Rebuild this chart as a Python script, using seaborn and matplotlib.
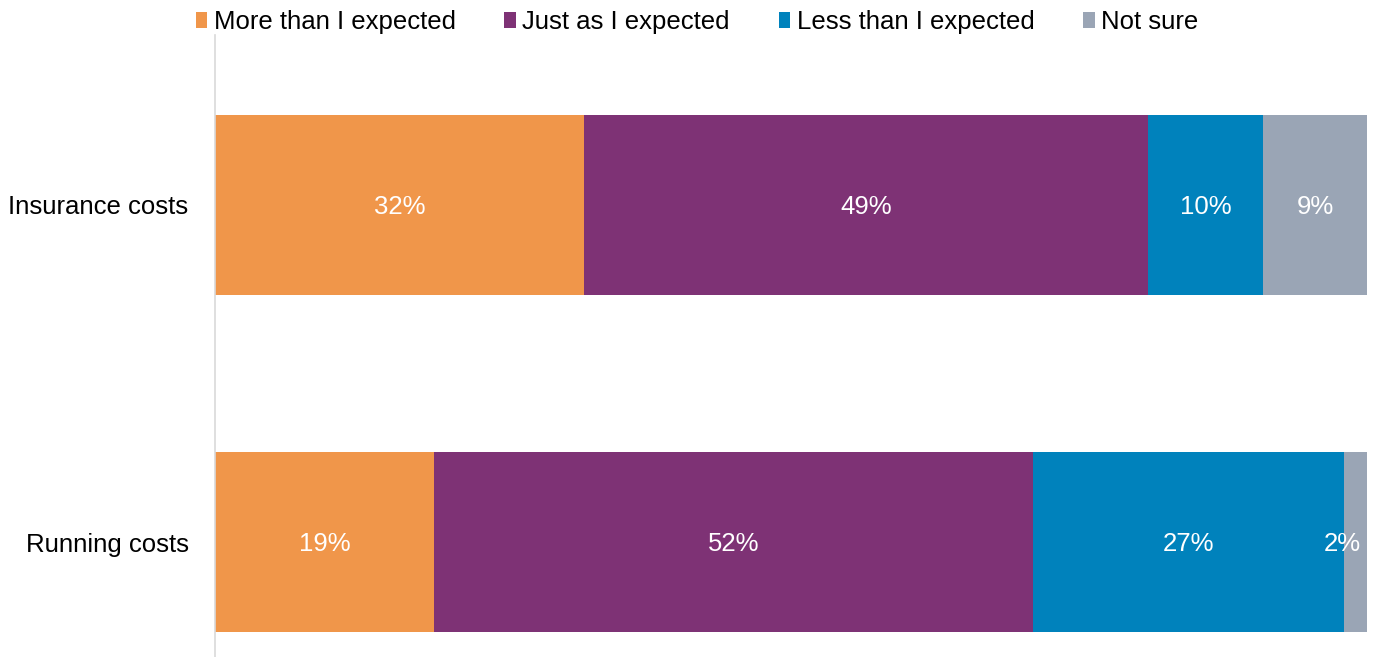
import matplotlib
matplotlib.use("Agg")
import matplotlib.pyplot as plt
import seaborn as sns
import numpy as np
import pandas as pd
from matplotlib.patches import Patch

categories = ["Insurance costs", "Running costs"]
series_names = ["More than I expected", "Just as I expected", "Less than I expected", "Not sure"]
more_than = [32, 19]
just_as = [49, 52]
less_than = [10, 27]
not_sure = [9, 2]
colors = ["#F0964A", "#7E3275", "#0082BC", "#9AA5B5"]

sns.set_theme(style="white")
plt.rcParams["font.family"] = ["Liberation Sans", "DejaVu Sans"]
plt.rcParams["text.color"] = "black"

values = np.array([more_than, just_as, less_than, not_sure], dtype=float)
cum = np.cumsum(values, axis=0)

fig = plt.figure(figsize=(13.75, 6.57), dpi=100)
ax = fig.add_axes([215 / 1375, 0.0, (1367 - 215) / 1375, (657 - 35) / 657])

# Stack by drawing cumulative totals from the largest down
for i in range(len(series_names) - 1, -1, -1):
    df = pd.DataFrame({"cat": categories, "val": cum[i]})
    sns.barplot(data=df, x="val", y="cat", orient="h", color=colors[i],
                width=0.534, saturation=1, ax=ax, linewidth=0)

# Value labels centred in each segment, kept inside the plot area
fs = 18.5
for i in range(len(series_names)):
    for j in range(len(categories)):
        start = cum[i][j] - values[i][j]
        xc = start + values[i][j] / 2
        xc = min(xc, 97.9)
        ax.text(xc, j + 0.005, f"{int(values[i][j])}%",
                ha="center", va="center", color="white", fontsize=fs)

ax.set_xlim(0, 100)
ax.set_ylim(1.341, -0.504)
ax.set_xlabel("")
ax.set_ylabel("")
ax.set_xticks([])
ax.tick_params(axis="y", length=0, labelsize=fs, pad=19, colors="black")
for s in ["top", "right", "bottom"]:
    ax.spines[s].set_visible(False)
ax.spines["left"].set_color("#D9D9D9")
ax.spines["left"].set_linewidth(1.2)

handles = [Patch(facecolor=c, edgecolor="none") for c in colors]
fig.legend(handles, series_names, loc="upper center", bbox_to_anchor=(0.507, 1.02),
           ncol=4, frameon=False, fontsize=fs, labelcolor="black",
           handlelength=0.45, handleheight=0.6,
           handletextpad=0.25, columnspacing=1.9)

fig.savefig("out.png", dpi=100)
